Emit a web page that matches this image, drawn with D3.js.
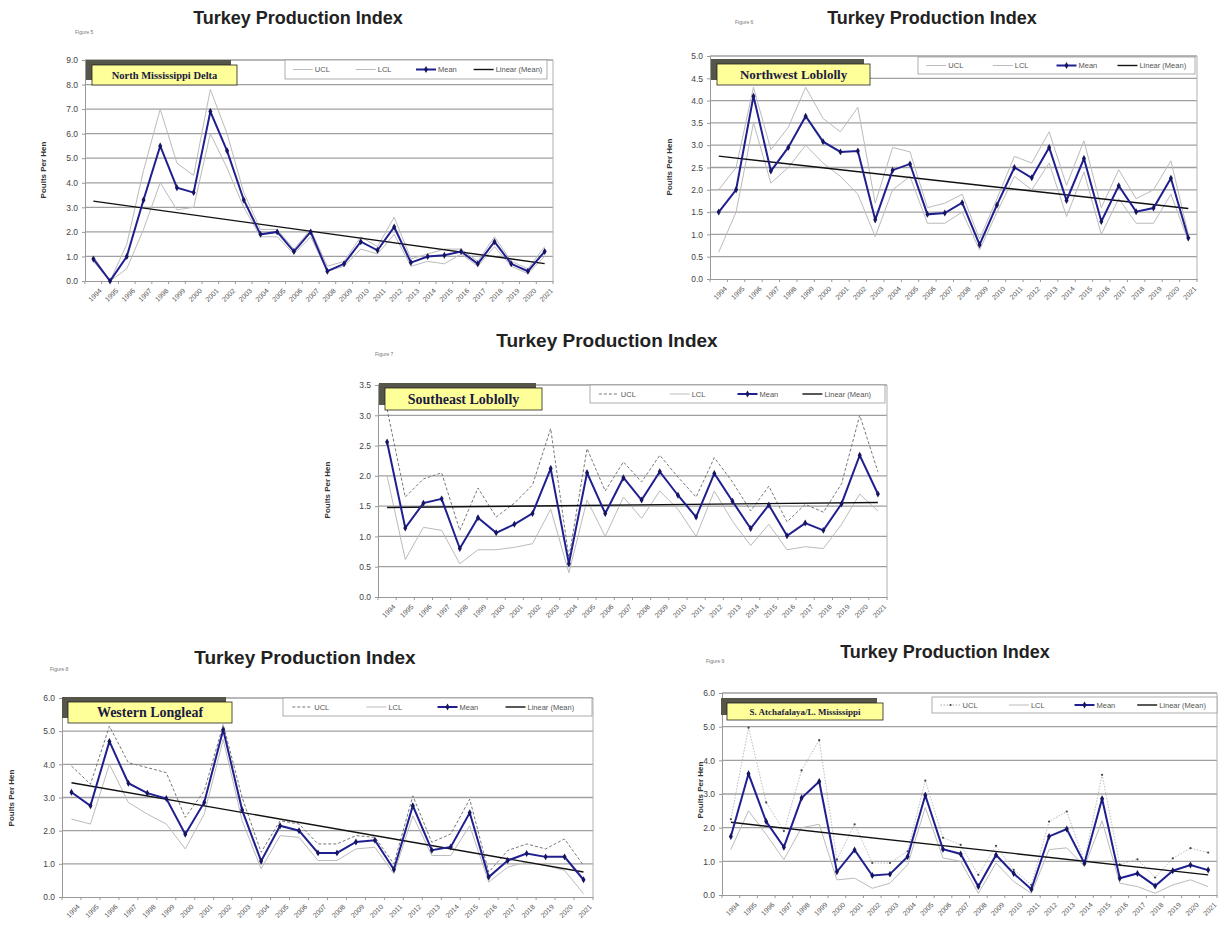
<!DOCTYPE html>
<html>
<head>
<meta charset="utf-8">
<script src="https://cdn.jsdelivr.net/npm/d3@7"></script>
<style>
  body { margin: 0; background: #fff; font-family: "Liberation Sans", Arial, sans-serif; }
</style>
</head>
<body>
<svg id="chart" width="1225" height="928"></svg>
<script>
// category labels (x axis)
const years = ["1994","1995","1996","1997","1998","1999","2000","2001","2002","2003","2004","2005","2006","2007",
  "2008","2009","2010","2011","2012","2013","2014","2015","2016","2017","2018","2019","2020","2021"];

// Figure 5 - North Mississippi Delta
const nmdMean = [0.9,0.0,1.0,3.3,5.5,3.8,3.6,6.9,5.3,3.3,1.9,2.0,1.2,2.0,0.4,0.7,1.6,1.25,2.2,0.75,1.0,1.05,1.2,0.7,1.6,0.7,0.4,1.2];
const nmdUcl  = [1.0,0.0,1.5,4.5,7.0,4.8,4.3,7.8,6.0,3.6,2.1,2.1,1.3,2.1,0.6,0.8,1.8,1.4,2.6,0.9,1.1,1.3,1.3,0.8,1.8,0.8,0.5,1.4];
const nmdLcl  = [0.8,0.0,0.5,2.1,4.0,2.9,3.0,6.0,4.6,3.0,1.8,1.8,1.1,1.8,0.4,0.6,1.3,1.1,1.9,0.6,0.8,0.7,1.1,0.6,1.4,0.6,0.3,1.0];

// Figure 6 - Northwest Loblolly
const nwlMean = [1.5,2.0,4.1,2.42,2.95,3.65,3.08,2.85,2.87,1.33,2.44,2.58,1.45,1.48,1.71,0.77,1.66,2.5,2.27,2.95,1.76,2.7,1.29,2.09,1.51,1.59,2.26,0.92];
const nwlUcl  = [2.0,2.5,4.3,2.9,3.4,4.3,3.6,3.3,3.85,1.7,2.95,2.85,1.6,1.7,1.9,0.9,1.8,2.75,2.6,3.3,2.1,3.1,1.6,2.45,1.8,2.0,2.65,1.0];
const nwlLcl  = [0.6,1.5,3.5,2.15,2.5,3.0,2.6,2.3,1.9,0.95,2.0,2.3,1.25,1.25,1.5,0.65,1.5,2.3,2.0,2.6,1.4,2.4,1.0,1.8,1.25,1.25,1.9,0.85];

// Figure 7 - Southeast Loblolly
const selMean = [2.56,1.14,1.55,1.62,0.8,1.31,1.06,1.2,1.38,2.12,0.55,2.05,1.38,1.97,1.6,2.07,1.68,1.32,2.04,1.58,1.13,1.52,1.01,1.22,1.1,1.54,2.34,1.7];
const selUcl  = [3.1,1.65,1.95,2.05,1.1,1.8,1.32,1.55,1.85,2.78,0.65,2.45,1.75,2.23,1.9,2.34,1.98,1.65,2.3,1.9,1.42,1.83,1.24,1.53,1.4,1.87,3.0,2.07];
const selLcl  = [2.0,0.62,1.15,1.1,0.55,0.78,0.78,0.82,0.88,1.45,0.4,1.6,1.0,1.65,1.3,1.75,1.45,1.0,1.75,1.25,0.85,1.2,0.78,0.83,0.8,1.2,1.7,1.42];

// Figure 8 - Western Longleaf
const wllMean = [3.16,2.75,4.69,3.43,3.13,2.97,1.89,2.85,5.04,2.62,1.08,2.15,2.0,1.33,1.33,1.66,1.71,0.83,2.75,1.41,1.51,2.54,0.6,1.1,1.31,1.21,1.21,0.52];
const wllUcl  = [3.95,3.4,5.15,4.05,3.9,3.75,2.4,3.2,5.2,3.0,1.35,2.3,2.2,1.6,1.6,1.85,1.8,1.0,3.05,1.65,1.9,2.95,0.75,1.4,1.6,1.45,1.75,0.95];
const wllLcl  = [2.35,2.2,4.0,2.85,2.5,2.2,1.45,2.5,4.75,2.3,0.85,1.85,1.8,1.1,1.1,1.45,1.5,0.7,2.45,1.25,1.25,2.15,0.45,0.9,1.05,0.95,0.8,0.1];

// Figure 9 - S. Atchafalaya/L. Mississippi
const salMean = [1.74,3.6,2.18,1.42,2.88,3.37,0.69,1.34,0.58,0.62,1.14,2.96,1.36,1.22,0.25,1.19,0.64,0.17,1.74,1.96,0.94,2.86,0.5,0.64,0.27,0.72,0.89,0.74];
const salUcl  = [2.25,4.97,2.75,1.9,3.7,4.6,1.05,2.1,0.95,0.95,1.3,3.4,1.7,1.49,0.6,1.46,0.75,0.3,2.18,2.48,1.0,3.57,0.9,1.06,0.52,1.09,1.39,1.26];
const salLcl  = [1.35,2.5,1.8,1.05,2.0,2.1,0.45,0.5,0.2,0.35,0.9,2.6,1.1,1.0,0.05,0.95,0.4,0.05,1.35,1.4,0.85,2.2,0.35,0.25,0.05,0.3,0.45,0.25];

const titleText = "Turkey Production Index";
const legendNames = ["UCL", "LCL", "Mean", "Linear (Mean)"];

// layout of the five panels
const panels = [
  { name: "North Mississippi Delta", fig: "Figure 5", mean: nmdMean, ucl: nmdUcl, lcl: nmdLcl,
    yMax: 9, yStep: 1, box: [85, 60, 553, 281], title: [298, 24, 18], figAt: [75, 34], yLab: [46, 170],
    legend: [285, 60, 262, 19], tag: [92, 65, 145, 20, 10.5], ucls: "light" },
  { name: "Northwest Loblolly", fig: "Figure 6", mean: nwlMean, ucl: nwlUcl, lcl: nwlLcl,
    yMax: 5, yStep: 0.5, box: [710, 56, 1197, 279], title: [932, 24, 18], figAt: [735, 24], yLab: [672, 167],
    legend: [918, 57, 277, 17], tag: [717, 64, 153, 21, 13], ucls: "light" },
  { name: "Southeast Loblolly", fig: "Figure 7", mean: selMean, ucl: selUcl, lcl: selLcl,
    yMax: 3.5, yStep: 0.5, box: [378, 385, 887, 597], title: [607, 347, 19], figAt: [375, 356], yLab: [330, 490],
    legend: [590, 385, 295, 18], tag: [385, 388, 157, 22, 14], ucls: "dash" },
  { name: "Western Longleaf", fig: "Figure 8", mean: wllMean, ucl: wllUcl, lcl: wllLcl,
    yMax: 6, yStep: 1, box: [62, 698, 593, 897], title: [305, 664, 19], figAt: [50, 671], yLab: [14, 798],
    legend: [283, 698, 309, 18], tag: [68, 702, 164, 21, 14], ucls: "dash" },
  { name: "S. Atchafalaya/L. Mississippi", fig: "Figure 9", mean: salMean, ucl: salUcl, lcl: salLcl,
    yMax: 6, yStep: 1, box: [722, 693, 1217, 895], title: [945, 658, 18], figAt: [706, 663], yLab: [703, 790],
    legend: [932, 697, 285, 16], tag: [727, 703, 156, 17, 9], ucls: "dots" }
];

const svg = d3.select("#chart");
const navy = "#1f1f8f";

function trend(values) {
  const n = values.length;
  const mx = (n - 1) / 2, my = d3.mean(values);
  let sxy = 0, sxx = 0;
  values.forEach((v, i) => { sxy += (i - mx) * (v - my); sxx += (i - mx) * (i - mx); });
  const b = sxy / sxx;
  return [my - b * mx, my + b * (n - 1 - mx)];
}

function drawPanel(p) {
  const [x0, y0, x1, y1] = p.box;
  const g = svg.append("g");
  const x = d3.scalePoint().domain(years).range([x0, x1]).padding(0.5);
  const y = d3.scaleLinear().domain([0, p.yMax]).range([y1, y0]);
  const ticks = d3.range(0, p.yMax + 1e-9, p.yStep);
  const step = x.step();

  // title and figure label
  g.append("text").attr("x", p.title[0]).attr("y", p.title[1])
    .attr("text-anchor", "middle").attr("font-weight", "bold").attr("font-size", p.title[2])
    .attr("fill", "#222").text(titleText);
  g.append("text").attr("x", p.figAt[0]).attr("y", p.figAt[1])
    .attr("font-size", 5).attr("fill", "#777").text(p.fig);

  // gridlines
  g.selectAll(".grid").data(ticks.slice(1)).join("line")
    .attr("x1", x0).attr("x2", x1)
    .attr("y1", d => y(d)).attr("y2", d => y(d))
    .attr("stroke", "#a0a0a0").attr("stroke-width", 1.3);
  g.append("line").attr("x1", x1).attr("x2", x1).attr("y1", y0).attr("y2", y1)
    .attr("stroke", "#b0b0b0");

  // y axis
  const ya = g.append("g").attr("transform", `translate(${x0},0)`)
    .call(d3.axisLeft(y).tickValues(ticks).tickFormat(d3.format(".1f")).tickSize(3).tickPadding(4));
  ya.select(".domain").attr("stroke", "#999");
  ya.selectAll(".tick line").attr("stroke", "#999");
  ya.selectAll("text").attr("font-size", 8.5).attr("fill", "#444").attr("font-family", "Liberation Sans, Arial");

  // x axis
  const xa = g.append("g").attr("transform", `translate(0,${y1})`)
    .call(d3.axisBottom(x).tickSize(0).tickPadding(4));
  xa.select(".domain").attr("stroke", "#999");
  xa.selectAll(".tick text")
    .attr("font-size", 7).attr("fill", "#555").attr("font-family", "Liberation Sans, Arial")
    .attr("text-anchor", "end").attr("dy", "0.3em")
    .attr("transform", "translate(4,6) rotate(-45)");
  g.selectAll(".xtick").data(d3.range(years.length + 1)).join("line")
    .attr("x1", i => x0 + i * step).attr("x2", i => x0 + i * step)
    .attr("y1", y1).attr("y2", y1 + 3).attr("stroke", "#999");

  // y label
  g.append("text").attr("transform", `translate(${p.yLab[0]},${p.yLab[1]}) rotate(-90)`)
    .attr("text-anchor", "middle").attr("font-size", 8).attr("font-weight", "bold")
    .attr("fill", "#333").text("Poults Per Hen");

  const line = d3.line().x((d, i) => x(years[i])).y(d => y(d));

  // LCL
  g.append("path").datum(p.lcl).attr("d", line).attr("fill", "none")
    .attr("stroke", "#bbb").attr("stroke-width", 1);
  // UCL
  const uPath = g.append("path").datum(p.ucl).attr("d", line).attr("fill", "none");
  if (p.ucls === "light") uPath.attr("stroke", "#bbb").attr("stroke-width", 1);
  if (p.ucls === "dash") uPath.attr("stroke", "#777").attr("stroke-width", 1).attr("stroke-dasharray", "3,2");
  if (p.ucls === "dots") {
    uPath.attr("stroke", "#aaa").attr("stroke-width", 0.8).attr("stroke-dasharray", "1.5,1.5");
    g.selectAll(".udot").data(p.ucl).join("circle")
      .attr("cx", (d, i) => x(years[i])).attr("cy", d => y(d)).attr("r", 1.1).attr("fill", "#444");
  }

  // trend line
  const [t0, t1] = trend(p.mean);
  g.append("line").attr("x1", x(years[0])).attr("y1", y(t0))
    .attr("x2", x(years[years.length - 1])).attr("y2", y(t1))
    .attr("stroke", "#111").attr("stroke-width", 1.4);

  // mean
  g.append("path").datum(p.mean).attr("d", line).attr("fill", "none")
    .attr("stroke", navy).attr("stroke-width", 2);
  g.selectAll(".pt").data(p.mean).join("path")
    .attr("d", d3.symbol(d3.symbolDiamond, 14))
    .attr("transform", (d, i) => `translate(${x(years[i])},${y(d)})`)
    .attr("fill", "#151560");

  // legend
  const [lx, ly, lw, lh] = p.legend;
  const lg = g.append("g").attr("transform", `translate(${lx},${ly})`);
  lg.append("rect").attr("width", lw).attr("height", lh)
    .attr("fill", "#fff").attr("stroke", "#999").attr("stroke-width", 0.8);
  const offs = [0.03, 0.27, 0.5, 0.72];
  legendNames.forEach((nm, i) => {
    const sx = offs[i] * lw, sy = lh / 2;
    const s = lg.append("line").attr("x1", sx).attr("x2", sx + 20).attr("y1", sy).attr("y2", sy);
    if (i === 0) {
      if (p.ucls === "light") s.attr("stroke", "#bbb");
      if (p.ucls === "dash") s.attr("stroke", "#777").attr("stroke-dasharray", "3,2");
      if (p.ucls === "dots") {
        s.attr("stroke", "#aaa").attr("stroke-dasharray", "1.5,1.5");
        lg.append("circle").attr("cx", sx + 10).attr("cy", sy).attr("r", 1.1).attr("fill", "#444");
      }
    } else if (i === 1) s.attr("stroke", "#bbb");
    else if (i === 2) {
      s.attr("stroke", navy).attr("stroke-width", 2);
      lg.append("path").attr("d", d3.symbol(d3.symbolDiamond, 14))
        .attr("transform", `translate(${sx + 10},${sy})`).attr("fill", "#151560");
    } else s.attr("stroke", "#111").attr("stroke-width", 1.4);
    lg.append("text").attr("x", sx + 22).attr("y", sy).attr("dy", "0.35em")
      .attr("font-size", 7.5).attr("fill", "#555").text(nm);
  });

  // region name tag
  const [tx, ty, tw, th, tf] = p.tag;
  g.append("rect").attr("x", tx - 6).attr("y", ty - 5).attr("width", tw).attr("height", th)
    .attr("fill", "#55554a");
  g.append("rect").attr("x", tx).attr("y", ty).attr("width", tw).attr("height", th)
    .attr("fill", "#ffff99").attr("stroke", "#222").attr("stroke-width", 0.8);
  g.append("text").attr("x", tx + tw / 2).attr("y", ty + th / 2).attr("dy", "0.35em")
    .attr("text-anchor", "middle").attr("font-family", "Liberation Serif, Times New Roman, serif")
    .attr("font-weight", "bold").attr("font-size", tf)
    .attr("fill", "#1a1a40").text(p.name);
}

panels.forEach(drawPanel);
</script>
</body>
</html>
